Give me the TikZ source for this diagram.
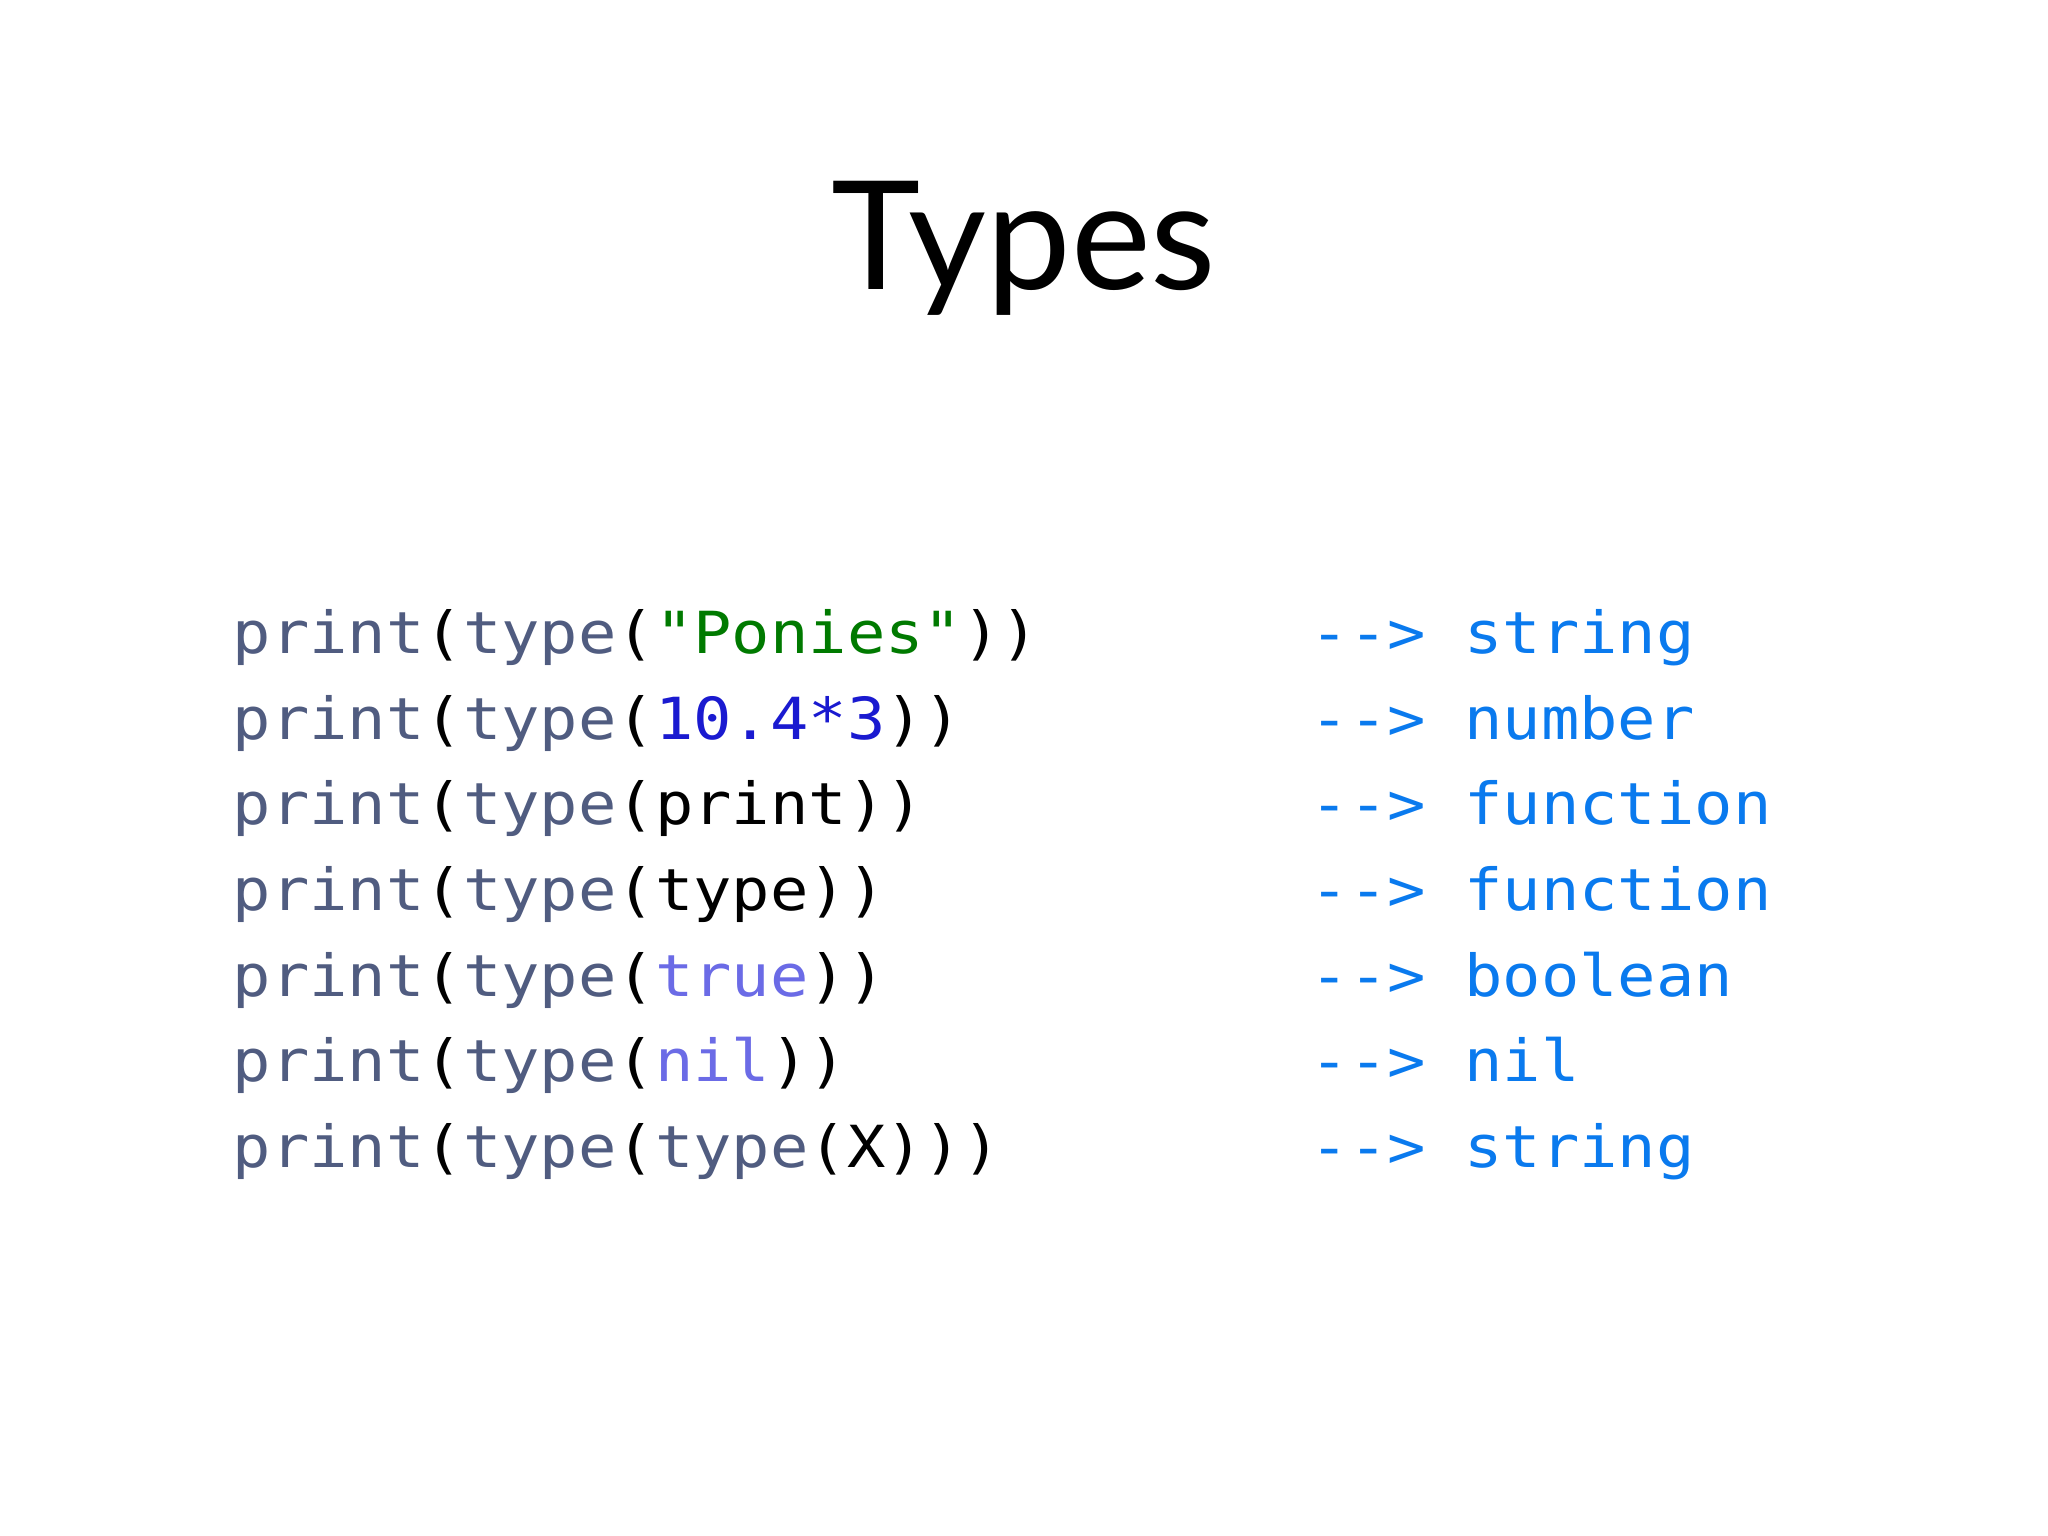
\documentclass[tikz,border=0pt]{standalone}
\usepackage{fontspec}
\setmainfont{Lato}
\setmonofont[FakeStretch=1.10]{DejaVu Sans Mono}
\definecolor{kw}{HTML}{505C80}
\definecolor{str}{HTML}{007A00}
\definecolor{num}{HTML}{1A1AD0}
\definecolor{lit}{HTML}{6B6BE6}
\definecolor{outc}{HTML}{0A7AEE}
\tikzset{code/.style={anchor=base west,inner sep=0pt,font=\ttfamily\fontsize{16.5}{20}\selectfont},
 res/.style={code,text=outc}}
\newcommand{\kw}[1]{\textcolor{kw}{#1}}
\begin{document}
\begin{tikzpicture}
\useasboundingbox[fill=white] (0,0) rectangle (20.48,-15.36);
\node[anchor=base,inner sep=0pt,font=\fontsize{43}{48}\selectfont] (title) at (10.24,-2.90) {Types};
\node[code] (c1) at (2.32,-6.53) {\kw{print}(\kw{type}(\textcolor{str}{"Ponies"}))};
\node[code] (c2) at (2.32,-7.39) {\kw{print}(\kw{type}(\textcolor{num}{10.4*3}))};
\node[code] (c3) at (2.32,-8.24) {\kw{print}(\kw{type}(print))};
\node[code] (c4) at (2.32,-9.10) {\kw{print}(\kw{type}(type))};
\node[code] (c5) at (2.32,-9.96) {\kw{print}(\kw{type}(\textcolor{lit}{true}))};
\node[code] (c6) at (2.32,-10.81) {\kw{print}(\kw{type}(\textcolor{lit}{nil}))};
\node[code] (c7) at (2.32,-11.67) {\kw{print}(\kw{type}(\kw{type}(X)))};
\node[res] (r1) at (13.10,-6.53) {-{}-> string};
\node[res] (r2) at (13.10,-7.39) {-{}-> number};
\node[res] (r3) at (13.10,-8.24) {-{}-> function};
\node[res] (r4) at (13.10,-9.10) {-{}-> function};
\node[res] (r5) at (13.10,-9.96) {-{}-> boolean};
\node[res] (r6) at (13.10,-10.81) {-{}-> nil};
\node[res] (r7) at (13.10,-11.67) {-{}-> string};
\end{tikzpicture}
\end{document}
